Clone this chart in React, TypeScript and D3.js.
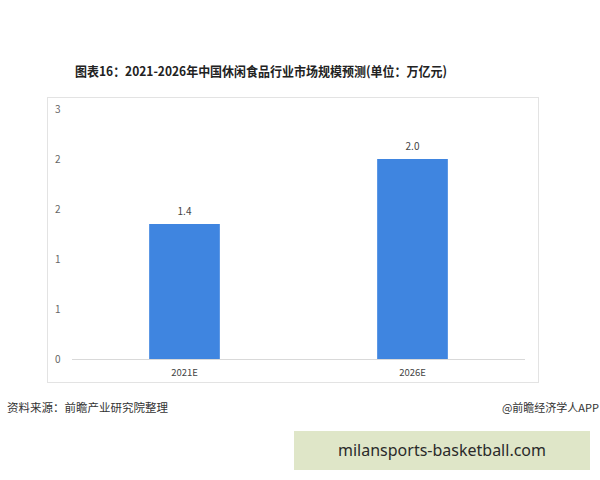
import React from "react";
import * as d3 from "d3";

const categories = ["2021E", "2026E"];
const values = [1.35, 2.0];
const yTicks = [0, 0.5, 1, 1.5, 2, 2.5];

const title = "图表16：2021-2026年中国休闲食品行业市场规模预测(单位：万亿元)";
const source = "资料来源：前瞻产业研究院整理";
const credit = "@前瞻经济学人APP";
const banner = "milansports-basketball.com";

export default function App() {
  const W = 600, H = 480;
  const x = d3.scaleBand<string>().domain(categories).range([70.5, 526.5]).paddingInner(0.69).paddingOuter(0.345);
  const y = d3.scaleLinear().domain([0, 2.5]).range([359, 109]);
  const fmtTick = d3.format(".0f");
  const fmtVal = d3.format(".1f");
  const font = "'Microsoft YaHei', 'Noto Sans CJK SC', 'Noto Sans', sans-serif";
  return (
    <svg width={W} height={H} style={{ position: "absolute", left: 0, top: 0, background: "#fff" }} fontFamily={font}>
      <rect x={0} y={0} width={W} height={H} fill="#fff" />
      <text x={261} y={76} textAnchor="middle" fontSize={13} fontWeight="bold" fill="#222" textLength={372} lengthAdjust="spacingAndGlyphs">{title}</text>
      <rect x={47.5} y={97.5} width={491} height={285} fill="none" stroke="#e3e3e3" strokeWidth={1} />
      {yTicks.map((t) => (
        <text key={t} x={55} y={y(t) + 4} fontSize={10} fill="#666">{fmtTick(t)}</text>
      ))}
      <line x1={72} x2={525} y1={359.5} y2={359.5} stroke="#d9d9d9" strokeWidth={1} />
      {categories.map((c, i) => (
        <g key={c}>
          <rect x={x(c)} y={y(values[i])} width={x.bandwidth()} height={y(0) - y(values[i])} fill="#3f85e0" />
          <text x={(x(c) as number) + x.bandwidth() / 2} y={y(values[i]) - 9} textAnchor="middle" fontSize={10} fill="#444">{fmtVal(values[i])}</text>
          <text x={(x(c) as number) + x.bandwidth() / 2} y={376} textAnchor="middle" fontSize={9.5} fill="#444">{c}</text>
        </g>
      ))}
      <text x={7} y={412} fontSize={11.5} fill="#333">{source}</text>
      <text x={599} y={412} textAnchor="end" fontSize={11} fill="#333">{credit}</text>
      <rect x={294} y={431} width={296} height={39} fill="#dfe6c8" />
      <text x={442} y={456} textAnchor="middle" fontSize={16} fill="#2a2a2a" fontFamily="'Noto Sans', sans-serif">{banner}</text>
    </svg>
  );
}
